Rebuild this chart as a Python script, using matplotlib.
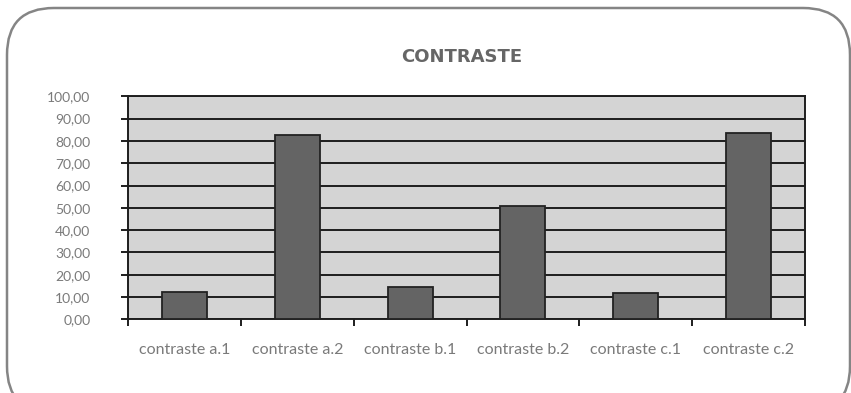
import matplotlib
matplotlib.use("Agg")
import matplotlib.pyplot as plt
from matplotlib.patches import FancyBboxPatch
from matplotlib.ticker import FixedLocator, FuncFormatter

categories = ["contraste a.1", "contraste a.2", "contraste b.1",
              "contraste b.2", "contraste c.1", "contraste c.2"]
values = [12.4, 82.7, 14.6, 50.9, 11.7, 83.4]
title = "CONTRASTE"

W, H = 851, 393
fig = plt.figure(figsize=(W / 100, H / 100), dpi=100)
fig.patch.set_facecolor("white")

# rounded frame around the whole chart
frame = FancyBboxPatch((7 / W, -20 / H), (843 / W), (H - 8 + 20) / H,
                       boxstyle="round,pad=0,rounding_size=0.055",
                       transform=fig.transFigure, facecolor="none",
                       edgecolor="#858585", linewidth=1.8, zorder=0,
                       mutation_aspect=W / H)
fig.patches.append(frame)

ax = fig.add_axes([128 / W, 73.7 / H, 677 / W, 223 / H])
ax.set_facecolor("#d4d4d4")

x = range(len(categories))
ax.bar(x, values, width=0.4, color="#646464", edgecolor="#222222",
       linewidth=1.3, zorder=3)

ax.set_xlim(-0.5, len(categories) - 0.5)
ax.set_ylim(0, 100)
ax.set_yticks(range(0, 101, 10))
ax.yaxis.set_major_formatter(FuncFormatter(lambda v, p: f"{v:.2f}".replace(".", ",")))
ax.grid(axis="y", color="#1e1e1e", linewidth=1.4, zorder=1)
ax.set_axisbelow(True)

ax.set_xticks(list(x))
ax.set_xticklabels(categories)
ax.xaxis.set_minor_locator(FixedLocator([i - 0.5 for i in range(len(categories) + 1)]))
ax.tick_params(axis="x", which="major", length=0, pad=17,
               labelsize=11.5, labelcolor="#7a7a7a")
ax.tick_params(axis="x", which="minor", length=5, width=1.4, color="#1e1e1e")
ax.tick_params(axis="y", length=5, width=1.4, color="#1e1e1e", pad=22,
               labelsize=10, labelcolor="#7a7a7a")

for s in ax.spines.values():
    s.set_color("#1e1e1e")
    s.set_linewidth(1.4)

for lbl in ax.get_xticklabels() + ax.get_yticklabels():
    lbl.set_family("Lato")

fig.text(462 / W, 1 - 57 / H, title, ha="center", va="center",
         fontsize=13, fontweight="bold", color="#666666",
         fontfamily="DejaVu Sans")

fig.savefig("out.png", dpi=100)
